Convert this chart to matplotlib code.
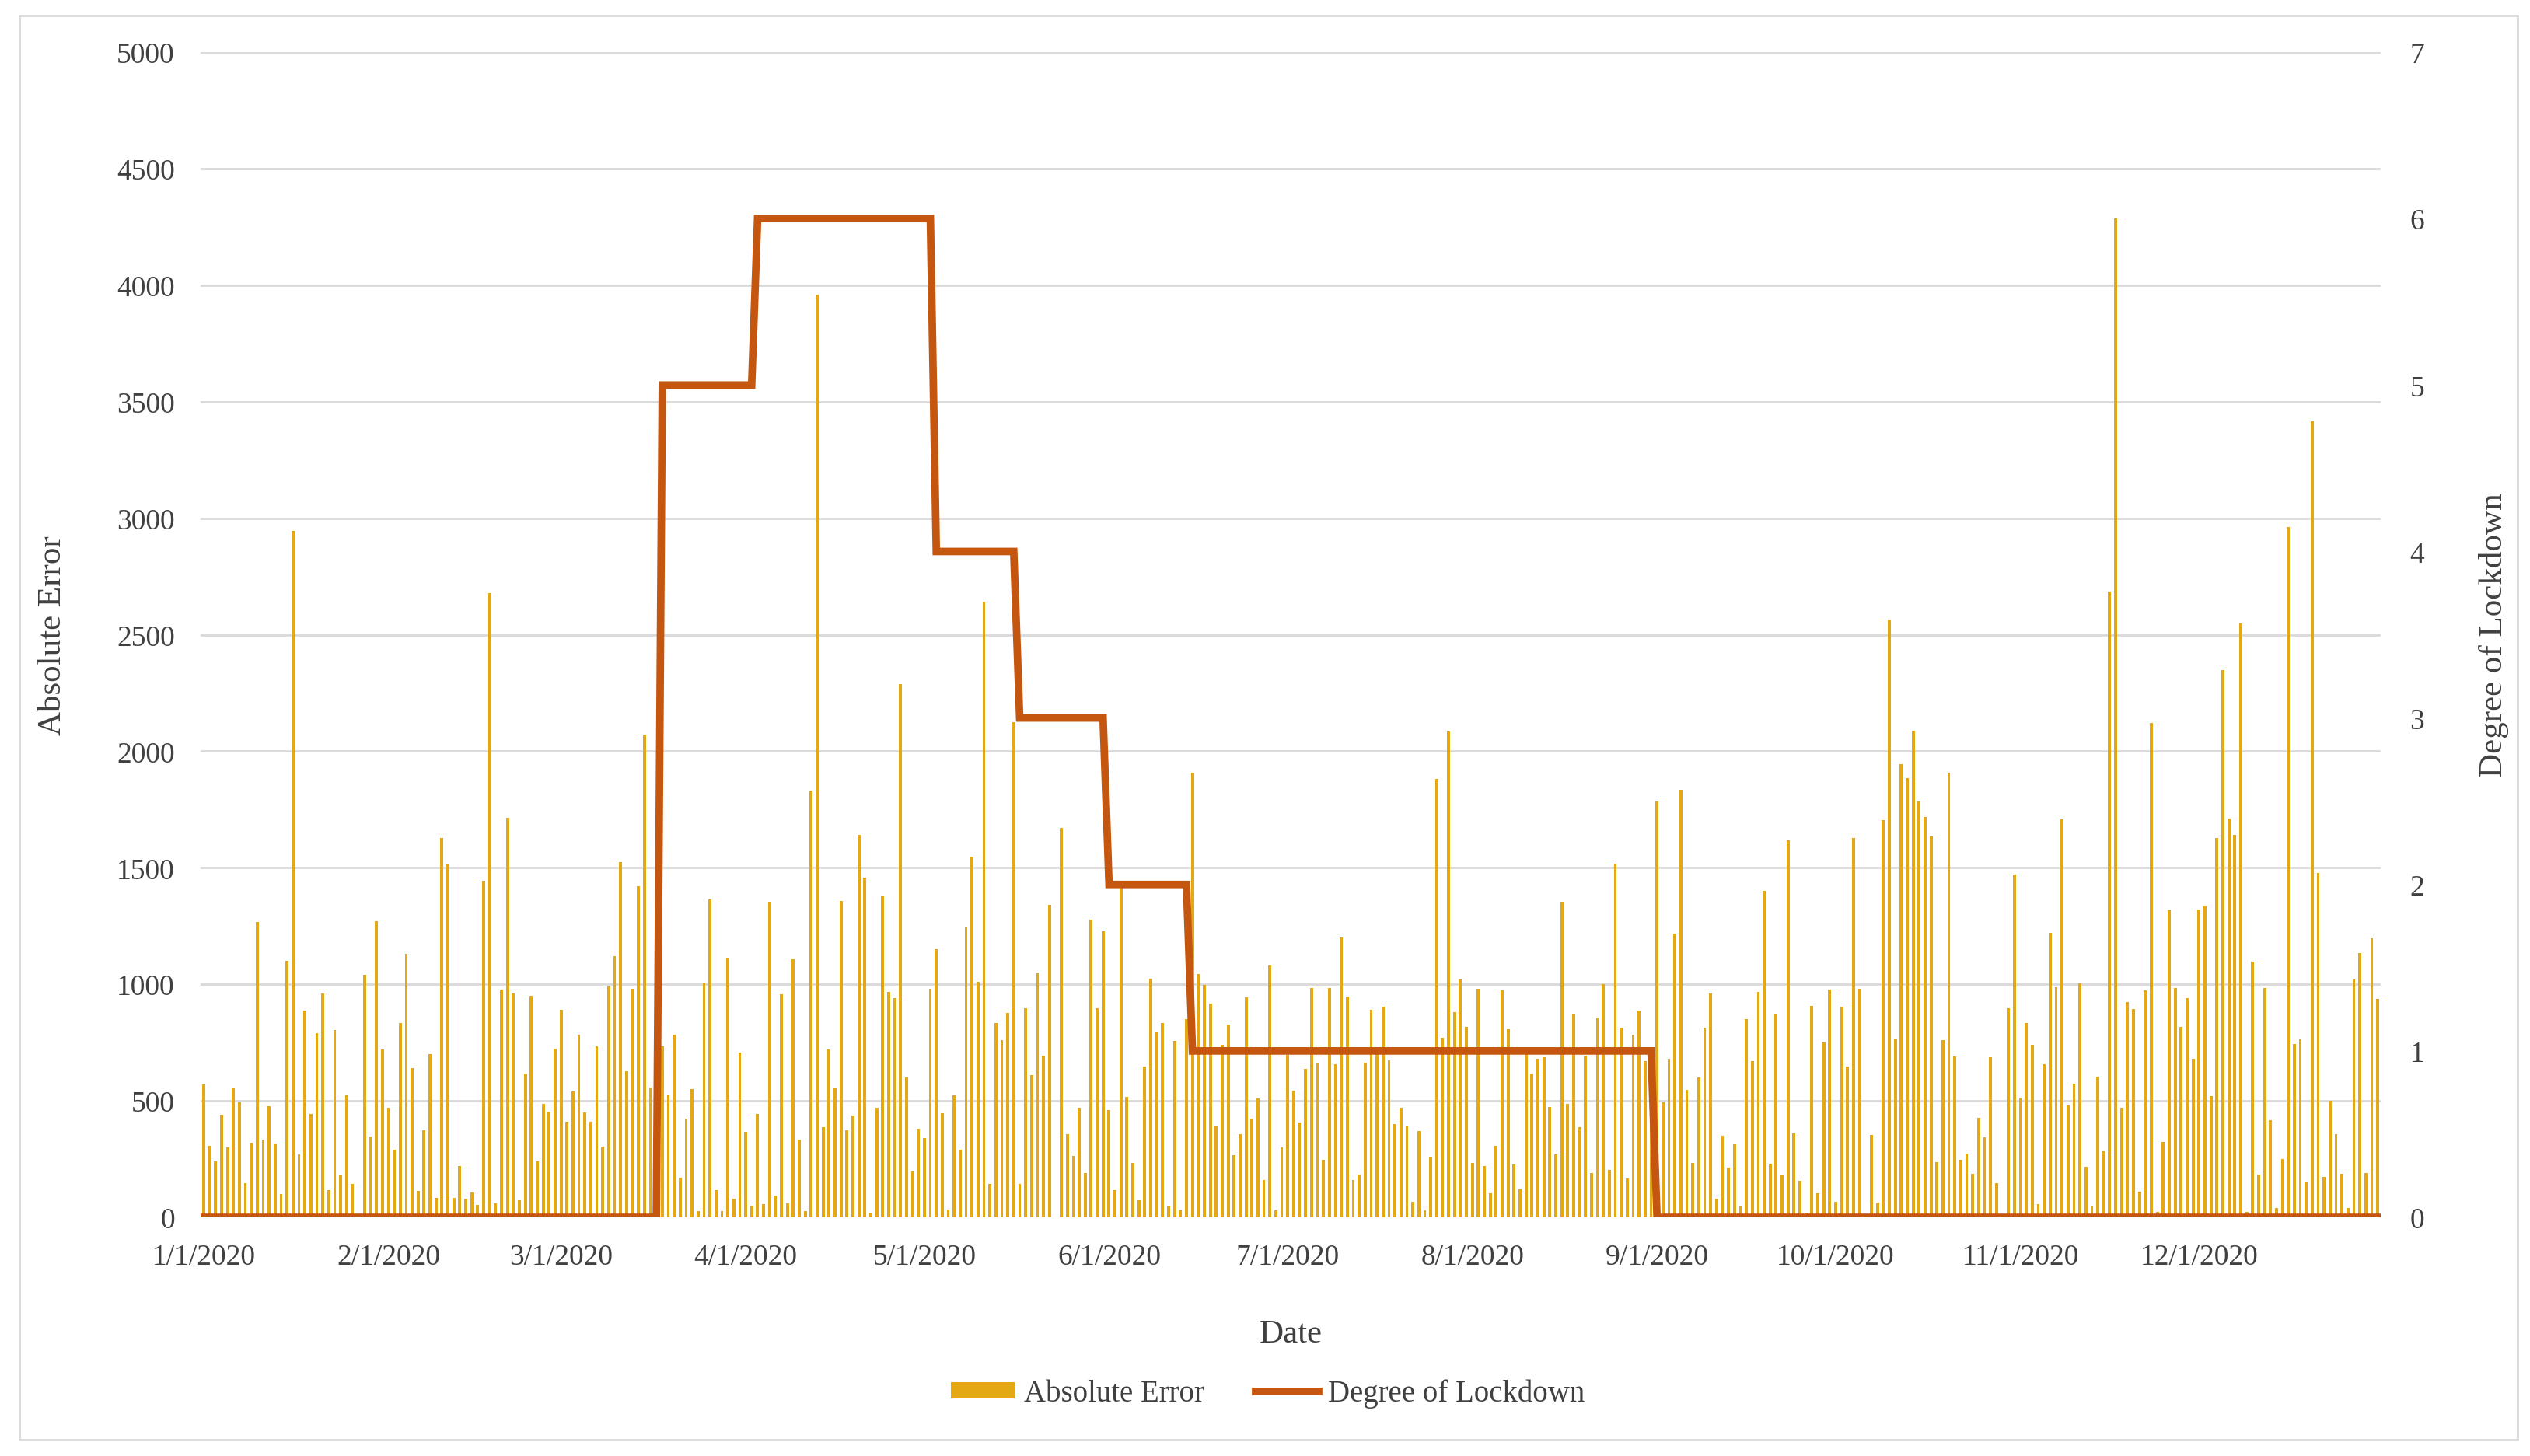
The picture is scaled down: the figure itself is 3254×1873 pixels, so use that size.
import matplotlib
matplotlib.use('Agg')
import matplotlib.pyplot as plt
import matplotlib.dates as mdates
from matplotlib.patches import Patch, Rectangle
from matplotlib.lines import Line2D
from matplotlib.ticker import FuncFormatter
import pandas as pd

# daily absolute error, one list per month of 2020
jan = [570, 308, 241, 440, 300, 555, 493, 147, 320, 1268, 335, 476, 317, 100, 1101, 2945, 270, 887, 443, 790,
       960, 117, 804, 179, 525, 144, 0, 1042, 346, 1271, 719]
feb = [470, 291, 834, 1130, 640, 112, 373, 699, 82, 1627, 1515, 82, 220, 79, 106, 53, 1444, 2678, 59, 978,
       1715, 960, 73, 617, 951, 241, 487, 455, 725]
mar = [890, 411, 540, 784, 449, 411, 734, 302, 992, 1122, 1524, 628, 981, 1421, 2073, 558, 740, 734, 528, 784,
       170, 423, 549, 26, 1007, 1365, 117, 26, 1113, 79, 708]
apr = [367, 50, 443, 56, 1356, 94, 957, 59, 1107, 335, 26, 1832, 3961, 388, 719, 555, 1359, 373, 437, 1641,
       1459, 21, 470, 1380, 969, 940, 2287, 599, 197, 379]
may = [341, 981, 1151, 446, 35, 523, 291, 1248, 1547, 1010, 2642, 144, 834, 760, 878, 2126, 144, 898, 611, 1048,
       693, 1342, 0, 1671, 358, 264, 470, 191, 1277, 898, 1227]
jun = [461, 117, 1415, 517, 232, 73, 646, 1025, 793, 834, 47, 757, 29, 851, 1908, 1045, 998, 916, 393, 740,
       828, 267, 358, 945, 423, 511, 161, 1080, 29, 300]
jul = [696, 543, 408, 637, 984, 661, 247, 984, 658, 1201, 948, 161, 185, 664, 890, 700, 904, 675, 402, 470,
       393, 68, 370, 29, 261, 1882, 769, 2085, 881, 1022, 819]
aug = [232, 981, 220, 103, 308, 975, 807, 226, 120, 702, 617, 681, 687, 473, 270, 1354, 487, 875, 388, 693,
       191, 857, 1001, 203, 1518, 813, 167, 784, 887, 669, 600]
sep = [1785, 493, 681, 1216, 1835, 546, 232, 599, 813, 960, 79, 349, 214, 314, 47, 851, 672, 966, 1400, 229,
       875, 179, 1618, 361, 156, 21, 907, 103, 752, 978]
oct_ = [68, 904, 646, 1629, 981, 0, 355, 62, 1703, 2566, 766, 1944, 1885, 2087, 1785, 1718, 1635, 238, 760, 1908,
        690, 247, 273, 188, 426, 344, 687, 147, 0, 898, 1471]
nov = [514, 834, 740, 56, 658, 1221, 989, 1709, 481, 573, 1004, 217, 47, 605, 285, 2684, 4287, 470, 925, 893,
       109, 975, 2123, 23, 323, 1318, 984, 816, 942, 681]
dec = [1321, 1339, 520, 1629, 2349, 1712, 1641, 2548, 23, 1098, 182, 984, 417, 41, 250, 2962, 743, 763, 153, 3415,
       1477, 173, 502, 358, 188, 41, 1022, 1133, 191, 1198, 937]

abs_error = jan + feb + mar + apr + may + jun + jul + aug + sep + oct_ + nov + dec
dates = pd.date_range('2020-01-01', '2020-12-31', freq='D')

# degree of lockdown: points where the step line changes
lock_dates = pd.to_datetime(['2020-01-01', '2020-03-17', '2020-03-18', '2020-04-02', '2020-04-03', '2020-05-02',
                             '2020-05-03', '2020-05-16', '2020-05-17', '2020-05-31', '2020-06-01', '2020-06-14',
                             '2020-06-15', '2020-08-31', '2020-09-01', '2020-12-31'])
lock_level = [0, 0, 5, 5, 6, 6, 4, 4, 3, 3, 2, 2, 1, 1, 0, 0]

bar_color = '#E4A815'
line_color = '#C5560F'
text_color = '#404040'

plt.rcParams['font.family'] = ['Liberation Serif', 'DejaVu Serif']
plt.rcParams['text.color'] = text_color

fig = plt.figure(figsize=(32.55, 18.74), dpi=100)
ax = fig.add_axes([0.0793, 0.1638, 0.8614, 0.7999])

ax.bar(dates, abs_error, width=0.5, color=bar_color, zorder=2)
ax.set_ylim(0, 5000)
ax.set_yticks(range(0, 5001, 500))
ax.grid(axis='y', color='#D9D9D9', linewidth=2)
ax.set_axisbelow(True)
ax.set_xlim(dates[0] - pd.Timedelta(hours=12), dates[-1] + pd.Timedelta(hours=12))
ax.xaxis.set_major_locator(mdates.MonthLocator())
ax.xaxis.set_major_formatter(FuncFormatter(
    lambda v, p: '{}/{}/{}'.format(mdates.num2date(v).month, mdates.num2date(v).day, mdates.num2date(v).year)))

for s in ax.spines.values():
    s.set_visible(False)
ax.tick_params(axis='both', length=0, labelsize=27, colors=text_color)
ax.tick_params(axis='y', pad=24)
ax.tick_params(axis='x', pad=24)

ax.set_ylabel('Absolute Error', fontsize=31, color=text_color)
ax.yaxis.set_label_coords(-0.061, 0.5)
ax.set_xlabel('Date', fontsize=31, color=text_color)
ax.xaxis.set_label_coords(0.5, -0.087)

ax2 = ax.twinx()
ax2.plot(lock_dates, lock_level, color=line_color, linewidth=7, solid_joinstyle='miter', zorder=3)
ax2.set_ylim(0, 7)
ax2.set_yticks(range(0, 8))
for s in ax2.spines.values():
    s.set_visible(False)
ax2.tick_params(axis='y', length=0, labelsize=27, colors=text_color, pad=27)
ax2.set_ylabel('Degree of Lockdown', fontsize=31, color=text_color, rotation=90)
ax2.yaxis.set_label_coords(1.045, 0.5)

handles = [Patch(facecolor=bar_color, edgecolor='none'),
           Line2D([0], [0], color=line_color, linewidth=7)]
fig.legend(handles, ['Absolute Error', 'Degree of Lockdown'], loc='center', bbox_to_anchor=(0.501, 0.043),
           ncol=2, frameon=False, fontsize=28, handlelength=2.1, handleheight=0.45,
           handletextpad=0.3, columnspacing=1.7)

fig.patches.append(Rectangle((0.0077, 0.011), 0.987, 0.978, transform=fig.transFigure,
                             fill=False, edgecolor='#D9D9D9', linewidth=2))

fig.savefig('out.png', dpi=100)
